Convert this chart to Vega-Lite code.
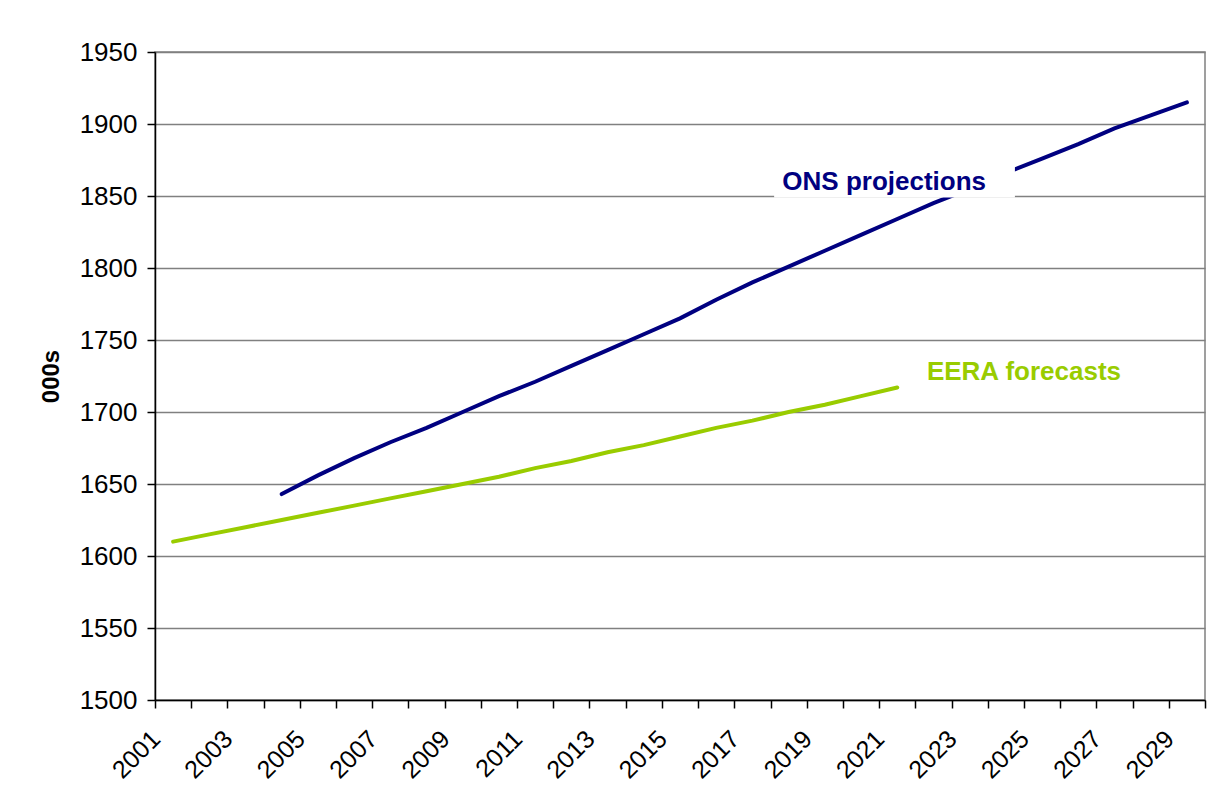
{
  "$schema": "https://vega.github.io/schema/vega-lite/v6.json",
  "width": 1050,
  "height": 648,
  "autosize": {"type": "none"},
  "padding": {"left": 155, "top": 52, "right": 7, "bottom": 105},
  "background": "white",
  "config": {
    "font": "Liberation Sans",
    "view": {"stroke": "#808080", "strokeWidth": 1.5}
  },
  "datasets": {
    "series": [
      {"year": 2004, "series": "ONS", "value": 1643},
      {"year": 2005, "series": "ONS", "value": 1656},
      {"year": 2006, "series": "ONS", "value": 1668},
      {"year": 2007, "series": "ONS", "value": 1679},
      {"year": 2008, "series": "ONS", "value": 1689},
      {"year": 2009, "series": "ONS", "value": 1700},
      {"year": 2010, "series": "ONS", "value": 1711},
      {"year": 2011, "series": "ONS", "value": 1721},
      {"year": 2012, "series": "ONS", "value": 1732},
      {"year": 2013, "series": "ONS", "value": 1743},
      {"year": 2014, "series": "ONS", "value": 1754},
      {"year": 2015, "series": "ONS", "value": 1765},
      {"year": 2016, "series": "ONS", "value": 1778},
      {"year": 2017, "series": "ONS", "value": 1790},
      {"year": 2018, "series": "ONS", "value": 1801},
      {"year": 2019, "series": "ONS", "value": 1812},
      {"year": 2020, "series": "ONS", "value": 1823},
      {"year": 2021, "series": "ONS", "value": 1834},
      {"year": 2022, "series": "ONS", "value": 1845},
      {"year": 2023, "series": "ONS", "value": 1855},
      {"year": 2024, "series": "ONS", "value": 1866},
      {"year": 2025, "series": "ONS", "value": 1876},
      {"year": 2026, "series": "ONS", "value": 1886},
      {"year": 2027, "series": "ONS", "value": 1897},
      {"year": 2028, "series": "ONS", "value": 1906},
      {"year": 2029, "series": "ONS", "value": 1915},
      {"year": 2001, "series": "EERA", "value": 1610},
      {"year": 2002, "series": "EERA", "value": 1615},
      {"year": 2003, "series": "EERA", "value": 1620},
      {"year": 2004, "series": "EERA", "value": 1625},
      {"year": 2005, "series": "EERA", "value": 1630},
      {"year": 2006, "series": "EERA", "value": 1635},
      {"year": 2007, "series": "EERA", "value": 1640},
      {"year": 2008, "series": "EERA", "value": 1645},
      {"year": 2009, "series": "EERA", "value": 1650},
      {"year": 2010, "series": "EERA", "value": 1655},
      {"year": 2011, "series": "EERA", "value": 1661},
      {"year": 2012, "series": "EERA", "value": 1666},
      {"year": 2013, "series": "EERA", "value": 1672},
      {"year": 2014, "series": "EERA", "value": 1677},
      {"year": 2015, "series": "EERA", "value": 1683},
      {"year": 2016, "series": "EERA", "value": 1689},
      {"year": 2017, "series": "EERA", "value": 1694},
      {"year": 2018, "series": "EERA", "value": 1700},
      {"year": 2019, "series": "EERA", "value": 1705},
      {"year": 2020, "series": "EERA", "value": 1711},
      {"year": 2021, "series": "EERA", "value": 1717}
    ]
  },
  "data": {"name": "series"},
  "layer": [
    {
      "mark": {"type": "line", "strokeWidth": 4, "strokeCap": "round", "clip": false},
      "encoding": {
        "x": {
          "field": "year",
          "type": "ordinal",
          "scale": {"type": "band", "paddingInner": 0, "paddingOuter": 0, "domain": [2001,2002,2003,2004,2005,2006,2007,2008,2009,2010,2011,2012,2013,2014,2015,2016,2017,2018,2019,2020,2021,2022,2023,2024,2025,2026,2027,2028,2029]},
          "axis": {
            "title": null,
            "domainColor": "black",
            "domainWidth": 1.5,
            "tickColor": "black",
            "tickWidth": 1.5,
            "tickSize": 8,
            "tickBand": "extent",
            "grid": false,
            "labelAngle": -45,
            "labelAlign": "right",
            "labelBaseline": "top",
            "labelFontSize": 25,
            "labelColor": "black",
            "labelPadding": 18,
            "labelOffset": -26,
            "labelExpr": "datum.value % 2 == 1 ? datum.label : ''"
          }
        },
        "y": {
          "field": "value",
          "type": "quantitative",
          "scale": {"domain": [1500, 1950], "nice": false, "zero": false},
          "axis": {
            "title": "000s",
            "titleFontSize": 24,
            "titleFontWeight": "bold",
            "titleColor": "black",
            "titlePadding": 16,
            "format": "d",
            "values": [1500,1550,1600,1650,1700,1750,1800,1850,1900,1950],
            "domainColor": "black",
            "domainWidth": 1.5,
            "tickColor": "black",
            "tickWidth": 1.5,
            "tickSize": 8,
            "labelFontSize": 26,
            "labelColor": "black",
            "labelPadding": 10,
            "gridColor": "#808080",
            "gridWidth": 1.5
          }
        },
        "color": {
          "field": "series",
          "type": "nominal",
          "scale": {"domain": ["ONS", "EERA"], "range": ["#000080", "#99CC00"]},
          "legend": null
        },
        "detail": {"field": "series"}
      }
    },
    {
      "data": {"values": [{}]},
      "mark": {"type": "rect", "color": "white"},
      "encoding": {
        "x": {"datum": 2018, "type": "ordinal", "bandPosition": 0.1},
        "x2": {"datum": 2024, "bandPosition": 0.75},
        "y": {"datum": 1849, "type": "quantitative"},
        "y2": {"datum": 1871}
      }
    },
    {
      "data": {"values": [{}]},
      "mark": {"type": "text", "text": "ONS projections", "font": "Liberation Sans", "fontSize": 26, "fontWeight": "bold", "color": "#000080", "align": "center", "baseline": "middle"},
      "encoding": {
        "x": {"datum": 2021, "type": "ordinal", "bandPosition": 0.14},
        "y": {"datum": 1860, "type": "quantitative"}
      }
    },
    {
      "data": {"values": [{}]},
      "mark": {"type": "text", "text": "EERA forecasts", "font": "Liberation Sans", "fontSize": 26, "fontWeight": "bold", "color": "#99CC00", "align": "center", "baseline": "middle"},
      "encoding": {
        "x": {"datum": 2025, "type": "ordinal", "bandPosition": 0},
        "y": {"datum": 1728, "type": "quantitative"}
      }
    }
  ]
}
